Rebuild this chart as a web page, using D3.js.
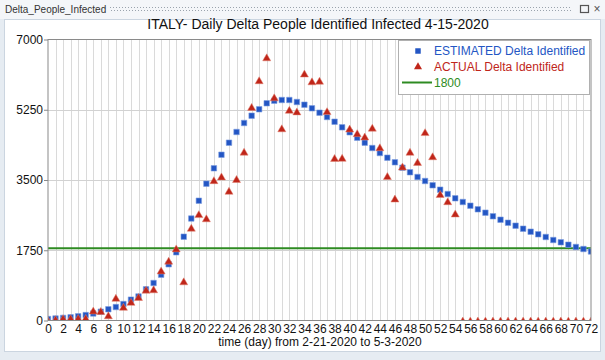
<!DOCTYPE html>
<html>
<head>
<meta charset="utf-8">
<script src="https://cdn.jsdelivr.net/npm/d3@7"></script>
<style>
  body { margin: 0; background: #e6ecf2; }
  svg { display: block; font-family: "Liberation Sans", Arial, sans-serif; }
</style>
</head>
<body>
<div id="chart_container"></div>
<script>
// days 0..72 (2-21-2020 .. 5-3-2020)
var days = d3.range(0, 73);

var estimated = [37, 50, 65, 80, 105, 135, 175, 220, 280, 335,
  410, 520, 600, 777, 934, 1141, 1400, 1699, 2088, 2540,
  2984, 3408, 3791, 4130, 4429, 4696, 4920, 5102, 5261, 5411,
  5475, 5493, 5493, 5443, 5376, 5286, 5177, 5069, 4952, 4812,
  4688, 4554, 4430, 4297, 4172, 4056, 3941, 3807, 3692, 3575,
  3475, 3368, 3259, 3151, 3044, 2952, 2860, 2770, 2686, 2596,
  2511, 2436, 2362, 2287, 2212, 2147, 2080, 2005, 1948, 1888,
  1831, 1781, 1720];

var actual = [10, 35, 60, 60, 65, 65, 250, 238, 130, 566,
  342, 466, 587, 769, 778, 1247, 1492, 1797, 977, 2313,
  2651, 2547, 3497, 3590, 3233, 3526, 4207, 5322, 5986, 6557,
  5560, 4789, 5249, 5210, 6153, 5959, 5974, 5217, 4050, 4053,
  4782, 4668, 4585, 4805, 4316, 3599, 3039, 3836, 4204, 3951,
  4694, 4092, 3153, 2972, 2667, 0, 0, 0, 0, 0,
  0, 0, 0, 0, 0, 0, 0, 0, 0, 0,
  0, 0, 0];

var threshold = 1800;
var yTicks = [0, 1750, 3500, 5250, 7000];
var xTicks = d3.range(0, 73, 2);
var legendLabels = ["ESTIMATED Delta Identified", "ACTUAL Delta Identified", "1800"];

var blue = "#2356c4", red = "#c0261a", green = "#2e8b22";

var svg = d3.select("#chart_container").append("svg")
  .attr("width", 605)
  .attr("height", 360);

// window frame
svg.append("rect").attr("x", 0).attr("y", 0).attr("width", 605).attr("height", 360).attr("fill", "#e6ecf2");
svg.append("rect").attr("x", 0).attr("y", 0).attr("width", 605).attr("height", 19).attr("fill", "#f4f6f9");
svg.append("rect").attr("x", 4.5).attr("y", 19.5).attr("width", 596).attr("height", 332)
  .attr("fill", "white").attr("stroke", "#cbd5e0");
svg.append("text").attr("x", 5).attr("y", 13)
  .style("font-size", "10px").attr("fill", "#333")
  .text("Delta_People_Infected");

var grip = svg.append("g").attr("fill", "#9aa3ad");
d3.range(110, 572, 3).forEach(function (gx) {
  grip.append("rect").attr("x", gx).attr("y", 7).attr("width", 1).attr("height", 1);
  grip.append("rect").attr("x", gx + 1).attr("y", 10).attr("width", 1).attr("height", 1);
});
svg.append("rect").attr("x", 580.5).attr("y", 5.5).attr("width", 8).attr("height", 7)
  .attr("fill", "none").attr("stroke", "#555").attr("stroke-width", 1.2);
svg.append("text").attr("x", 597).attr("y", 13).attr("text-anchor", "middle")
  .style("font-size", "12px").attr("fill", "#555").text("\u00d7");

// scales
var x = d3.scaleLinear().domain([0, 72]).range([48, 591]);
var y = d3.scaleLinear().domain([0, 7000]).range([320.5, 39.5]);

// grid
var grid = svg.append("g");
grid.selectAll("line.v")
  .data(d3.range(1, 72))
  .enter().append("line")
   .attr("x1", function (d) { return Math.round(x(d)) + 0.5; })
   .attr("x2", function (d) { return Math.round(x(d)) + 0.5; })
   .attr("y1", y(7000)).attr("y2", y(0))
   .attr("stroke", "#dadada");
grid.selectAll("line.h")
  .data([1750, 3500, 5250])
  .enter().append("line")
   .attr("x1", x(0)).attr("x2", x(72))
   .attr("y1", function (d) { return Math.round(y(d)) + 0.5; })
   .attr("y2", function (d) { return Math.round(y(d)) + 0.5; })
   .attr("stroke", "#d2d2d2");

// axes
var yAxis = svg.append("g")
  .attr("transform", "translate(" + x(0) + ",0)")
  .call(d3.axisLeft(y).tickValues(yTicks).tickFormat(d3.format("d")).tickSize(4).tickPadding(1));
var xAxis = svg.append("g")
  .attr("transform", "translate(0," + y(0) + ")")
  .call(d3.axisBottom(x).tickValues(xTicks).tickSize(0).tickPadding(4));
[yAxis, xAxis].forEach(function (a) {
  a.select(".domain").remove();
  a.selectAll("text").style("font-size", "12px").attr("fill", "#111");
  a.selectAll("line").attr("stroke", "#888");
});

svg.append("clipPath").attr("id", "plotclip")
  .append("rect")
  .attr("x", x(0)).attr("y", y(7000))
  .attr("width", x(72) - x(0)).attr("height", y(0) - y(7000));

var plot = svg.append("g").attr("clip-path", "url(#plotclip)");

// 1800 line
plot.append("line")
  .attr("x1", x(0)).attr("x2", x(72))
  .attr("y1", y(threshold)).attr("y2", y(threshold))
  .attr("stroke", green).attr("stroke-width", 2);

var square = d3.symbol().type(d3.symbolSquare).size(30);
var triangle = d3.symbol().type(d3.symbolTriangle).size(28);

plot.selectAll("path.est")
  .data(days)
  .enter().append("path")
   .attr("class", "est")
   .attr("d", square)
   .attr("transform", function (d) { return "translate(" + x(d) + "," + y(estimated[d]) + ")"; })
   .attr("fill", blue)
   .attr("stroke", "#7fa0e0").attr("stroke-width", 0.6);

// triangles centred on their box, not on the centroid
plot.selectAll("path.act")
  .data(days)
  .enter().append("path")
   .attr("class", "act")
   .attr("d", triangle)
   .attr("transform", function (d) { return "translate(" + x(d) + "," + (y(actual[d]) + 1.2) + ")"; })
   .attr("fill", red)
   .attr("stroke", "#e08070").attr("stroke-width", 0.5);

// plot border
svg.append("rect")
  .attr("x", x(0)).attr("y", y(7000))
  .attr("width", x(72) - x(0)).attr("height", y(0) - y(7000))
  .attr("fill", "none").attr("stroke", "#8a8a8a");

// title + axis title
svg.append("text")
  .attr("x", 318).attr("y", 29)
  .attr("text-anchor", "middle")
  .style("font-size", "14px").attr("fill", "#111")
  .text("ITALY- Daily Delta People Identified Infected 4-15-2020");
svg.append("text")
  .attr("x", 320).attr("y", 346)
  .attr("text-anchor", "middle")
  .style("font-size", "12px").attr("fill", "#111")
  .text("time (day) from 2-21-2020 to 5-3-2020");

// legend
var legend = svg.append("g");
legend.append("rect")
  .attr("x", 398.5).attr("y", 40.5).attr("width", 191).attr("height", 54)
  .attr("fill", "white").attr("stroke", "#b0b0b0");
legend.append("path").attr("d", square)
  .attr("transform", "translate(418,51)").attr("fill", blue);
legend.append("path").attr("d", triangle)
  .attr("transform", "translate(418,67)").attr("fill", red);
legend.append("line")
  .attr("x1", 402).attr("x2", 432).attr("y1", 82.5).attr("y2", 82.5)
  .attr("stroke", green).attr("stroke-width", 2);
legend.selectAll("text")
  .data(legendLabels)
  .enter().append("text")
   .attr("x", 434)
   .attr("y", function (d, i) { return 55 + i * 16; })
   .style("font-size", "12px")
   .attr("fill", function (d, i) { return [blue, red, green][i]; })
   .text(function (d) { return d; });
</script>
</body>
</html>
